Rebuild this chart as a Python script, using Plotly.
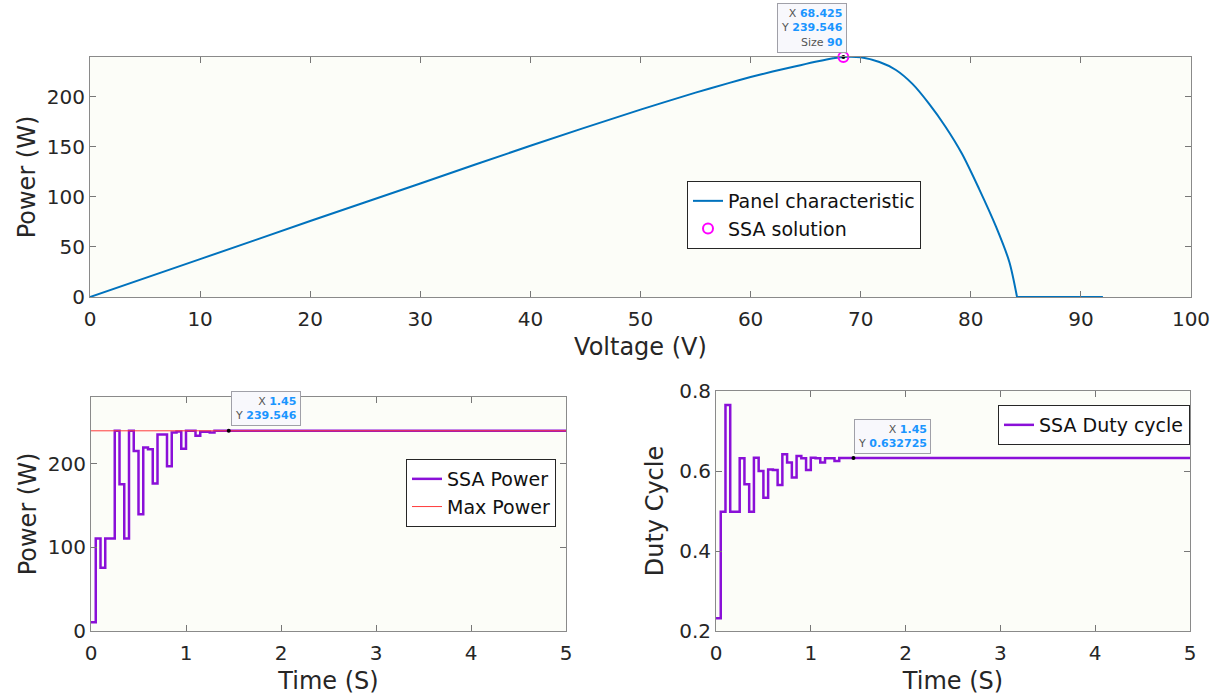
import plotly.graph_objects as go

# ---------------- data ----------------
voltage = [0, 10, 20, 30, 40, 50, 55, 58, 60, 62, 64, 66, 67.5, 68.425, 70, 71.7,
           73.2, 74.7, 76.2, 77.7, 79.2, 80.75, 82.3, 83.5, 84.2, 92]
panel_power = [0, 37.8, 75.8, 113.3, 151, 187, 204, 213.5, 219.5, 225, 230, 235,
               238.3, 239.546, 239.2, 234.5, 226.6, 212.7, 193, 170, 143, 108, 70, 35, 0, 0]

mpp_v = [68.425]
mpp_p = [239.546]

time_s = [0.00, 0.05, 0.10, 0.15, 0.20, 0.25, 0.30, 0.35, 0.40, 0.45, 0.50, 0.55, 0.60,
          0.65, 0.70, 0.75, 0.80, 0.85, 0.90, 0.95, 1.00, 1.05, 1.10, 1.15, 1.20, 1.25,
          1.30, 5.00]
ssa_power = [10.4, 110.8, 75.7, 110.8, 110.8, 239.5, 175.7, 110.8, 239.5, 215.5, 139.8,
             219.5, 217.5, 176.5, 235.0, 235.0, 197.0, 237.5, 238.8, 218.0, 239.5, 239.5,
             233.5, 238.5, 238.5, 237.5, 239.546, 239.546]
ssa_duty = [0.232, 0.498, 0.765, 0.498, 0.498, 0.632, 0.567, 0.498, 0.633, 0.600, 0.533,
            0.604, 0.6025, 0.565, 0.642, 0.621, 0.584, 0.6375, 0.632, 0.6025, 0.633, 0.632,
            0.621, 0.632, 0.632, 0.625, 0.632725, 0.632725]

max_power_t = [0, 5]
max_power = [239.546, 239.546]

tip_t = [1.45]
tip_power = [239.546]
tip_duty = [0.632725]

# ---------------- styling ----------------
W, H = 1226, 700
FONT = "DejaVu Sans"
TXT = "#262626"
BLUE = "#0072BD"
PURPLE = "#8a10d8"
RED = "#ff3b3b"


def px_x(p):
    return p / W


def px_y(p):
    return (H - p) / H


axis_common = dict(
    showline=True, linecolor="#8a8a8a", linewidth=1, mirror="ticks",
    ticks="inside", ticklen=6, tickcolor="#777", showgrid=False, zeroline=False,
    automargin=False,
    tickfont=dict(family=FONT, size=20, color=TXT),
    title_font=dict(family=FONT, size=24, color=TXT),
)
xaxis_extra = dict(ticklabelstandoff=4)

fig = go.Figure()

# top: panel characteristic (smooth part + flat tail drawn from the same arrays)
knee = voltage.index(84.2)
fig.add_trace(go.Scatter(x=voltage[:knee + 1], y=panel_power[:knee + 1], mode="lines",
                         line=dict(color=BLUE, width=2, shape="spline", smoothing=0.8),
                         name="Panel characteristic", xaxis="x", yaxis="y",
                         legend="legend", legendgroup="pc"))
fig.add_trace(go.Scatter(x=voltage[knee:], y=panel_power[knee:], mode="lines",
                         line=dict(color=BLUE, width=2), showlegend=False,
                         xaxis="x", yaxis="y", legendgroup="pc"))
fig.add_trace(go.Scatter(x=mpp_v, y=mpp_p, mode="markers",
                         marker=dict(symbol="circle-open", color="#ff00ff", size=10,
                                     line=dict(width=2, color="#ff00ff")),
                         name="SSA solution", xaxis="x", yaxis="y", legend="legend",
                         cliponaxis=False))
fig.add_trace(go.Scatter(x=mpp_v, y=mpp_p, mode="markers",
                         marker=dict(color="black", size=4), showlegend=False,
                         xaxis="x", yaxis="y", cliponaxis=False, hoverinfo="skip"))

# bottom-left: power
fig.add_trace(go.Scatter(x=time_s, y=ssa_power, mode="lines", line_shape="hv",
                         line=dict(color=PURPLE, width=2.5), name="SSA Power",
                         xaxis="x2", yaxis="y2", legend="legend2"))
fig.add_trace(go.Scatter(x=max_power_t, y=max_power, mode="lines",
                         line=dict(color=RED, width=1), name="Max Power",
                         xaxis="x2", yaxis="y2", legend="legend2"))
fig.add_trace(go.Scatter(x=tip_t, y=tip_power, mode="markers",
                         marker=dict(color="black", size=4), showlegend=False,
                         xaxis="x2", yaxis="y2", hoverinfo="skip"))

# bottom-right: duty
fig.add_trace(go.Scatter(x=time_s, y=ssa_duty, mode="lines", line_shape="hv",
                         line=dict(color=PURPLE, width=2.5), name="SSA Duty cycle",
                         xaxis="x3", yaxis="y3", legend="legend3"))
fig.add_trace(go.Scatter(x=tip_t, y=tip_duty, mode="markers",
                         marker=dict(color="black", size=4), showlegend=False,
                         xaxis="x3", yaxis="y3", hoverinfo="skip"))

legend_common = dict(xanchor="left", yanchor="top", bgcolor="white",
                     bordercolor="#262626", borderwidth=1,
                     font=dict(family=FONT, size=19, color="#111"),
                     itemwidth=30, tracegroupgap=0)

fig.update_layout(
    width=W, height=H, margin=dict(l=0, r=0, t=0, b=0),
    paper_bgcolor="white", plot_bgcolor="#fcfdf8",
    xaxis=dict(domain=[px_x(90), px_x(1191)], range=[0, 100], dtick=10,
               anchor="y", title=dict(text="Voltage (V)", standoff=8),
               **axis_common, **xaxis_extra),
    yaxis=dict(domain=[px_y(297), px_y(57)], range=[0, 239.546], dtick=50,
               anchor="x", title=dict(text="Power (W)", standoff=4), **axis_common),
    xaxis2=dict(domain=[px_x(91), px_x(566)], range=[0, 5], dtick=1, anchor="y2",
                title=dict(text="Time (S)", standoff=8), **axis_common, **xaxis_extra),
    yaxis2=dict(domain=[px_y(631), px_y(397)], range=[0, 280], dtick=100, anchor="x2",
                title=dict(text="Power (W)", standoff=4), **axis_common),
    xaxis3=dict(domain=[px_x(716), px_x(1190)], range=[0, 5], dtick=1, anchor="y3",
                title=dict(text="Time (S)", standoff=8), **axis_common, **xaxis_extra),
    yaxis3=dict(domain=[px_y(631), px_y(391)], range=[0.2, 0.8], dtick=0.2,
                tickformat=".1f", anchor="x3",
                title=dict(text="Duty Cycle", standoff=8), **axis_common),
    legend=dict(x=px_x(687), y=px_y(181), **legend_common),
    legend2=dict(x=px_x(406), y=px_y(459), **legend_common),
    legend3=dict(x=px_x(998), y=px_y(405), **legend_common),
    showlegend=True,
)


def tip_text(rows):
    parts = []
    for lab, val in rows:
        parts.append("<span style='color:#555'>%s</span> <b><span style='color:#1a95ff'>%s</span></b>"
                     % (lab, val))
    return "<br>".join(parts)


tip_style = dict(showarrow=False, font=dict(family=FONT, size=11, color="#555"),
                 bgcolor="#f8f8fc", bordercolor="#a0a0a8", borderwidth=1, borderpad=3,
                 align="right")

fig.add_annotation(x=mpp_v[0], y=mpp_p[0], xref="x", yref="y",
                   xanchor="right", yanchor="bottom", xshift=4, yshift=4,
                   text=tip_text([("X", "68.425"), ("Y", "239.546"), ("Size", "90")]),
                   **tip_style)
fig.add_annotation(x=tip_t[0], y=tip_power[0], xref="x2", yref="y2",
                   xanchor="left", yanchor="bottom", xshift=2, yshift=5,
                   text=tip_text([("X", "1.45"), ("Y", "239.546")]), **tip_style)
fig.add_annotation(x=tip_t[0], y=tip_duty[0], xref="x3", yref="y3",
                   xanchor="left", yanchor="bottom", xshift=1, yshift=4,
                   text=tip_text([("X", "1.45"), ("Y", "0.632725")]), **tip_style)

fig.write_html("out.html")
